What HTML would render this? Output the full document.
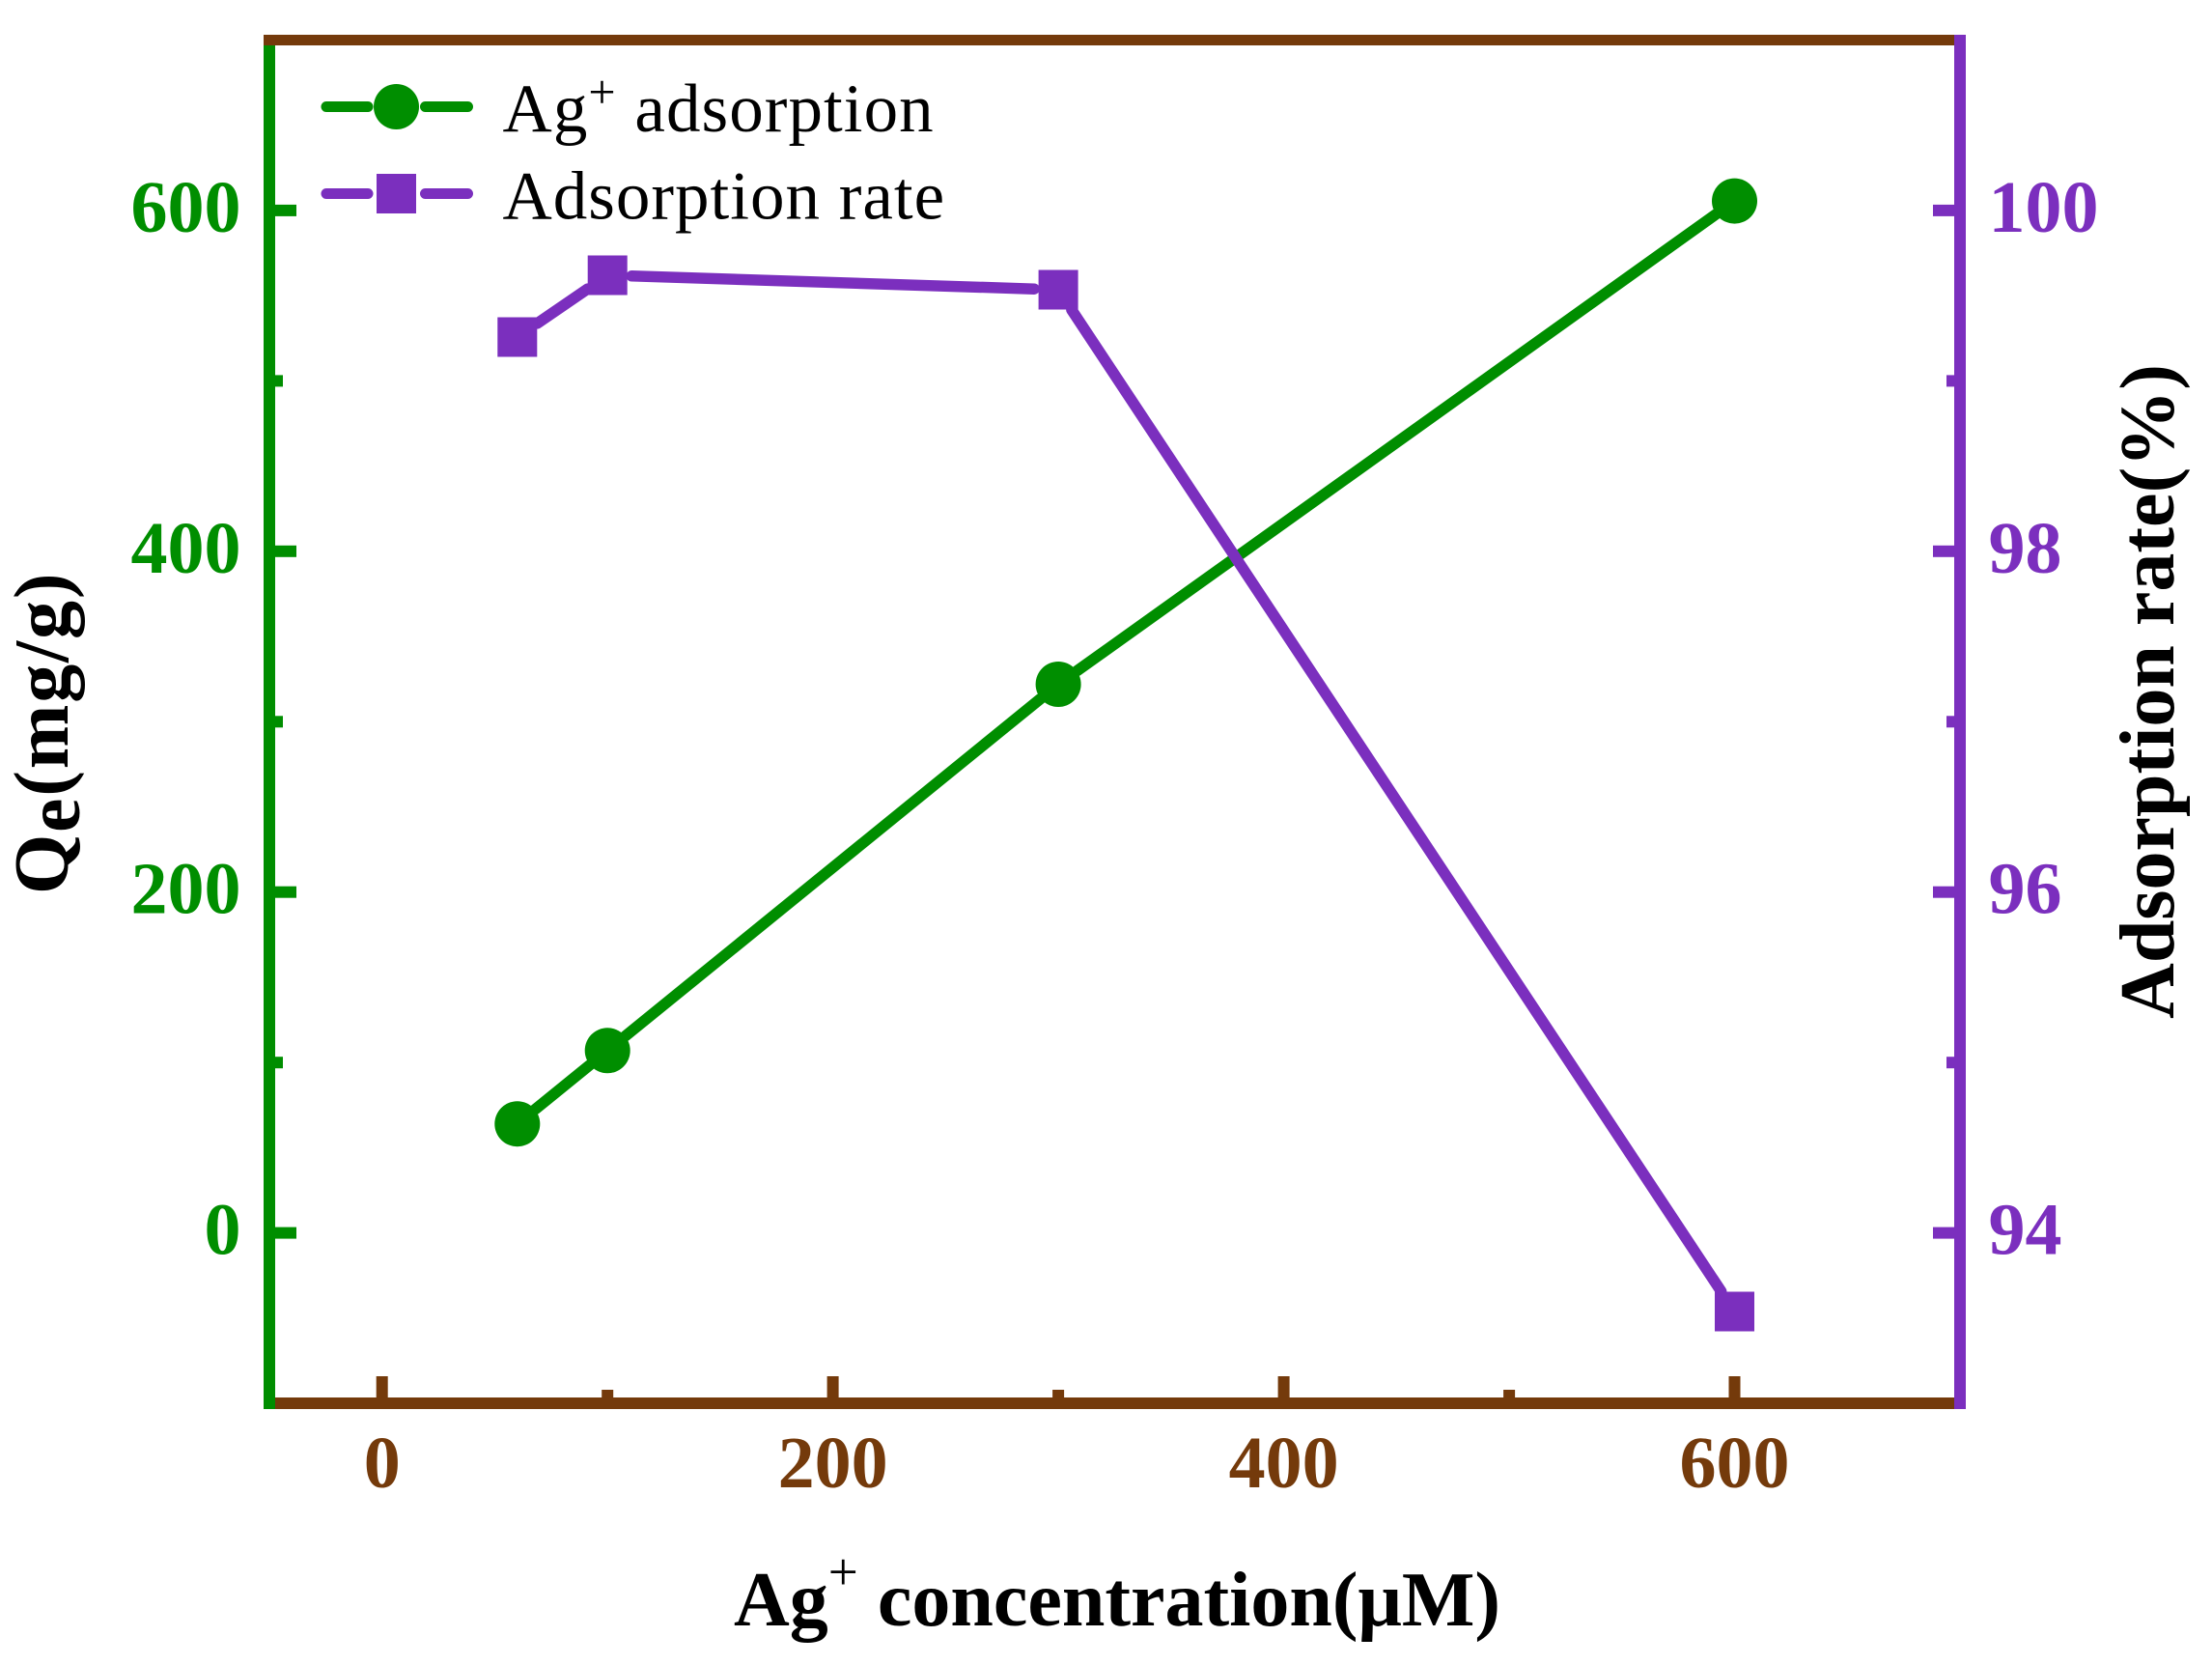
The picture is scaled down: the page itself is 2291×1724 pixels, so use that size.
<!DOCTYPE html>
<html>
<head>
<meta charset="utf-8">
<style>
  html, body { margin: 0; padding: 0; background: #ffffff; }
  body { width: 2291px; height: 1724px; overflow: hidden; }
  svg { display: block; }
</style>
</head>
<body>
<svg width="2291" height="1724" viewBox="0 0 2291 1724" xmlns="http://www.w3.org/2000/svg">
  <rect x="0" y="0" width="2291" height="1724" fill="#ffffff"/>

  <!-- Axis frame -->
  <rect x="273" y="36" width="1751" height="11" fill="#743A0B"/>
  <rect x="285" y="1447" width="1739" height="12" fill="#743A0B"/>
  <rect x="273" y="47" width="12" height="1412" fill="#008E00"/>
  <rect x="2024" y="36" width="12" height="1423" fill="#7B2FBE"/>

  <!-- Left axis ticks (green) -->
  <g fill="#008E00">
    <rect x="285" y="1270.6" width="22" height="12"/>
    <rect x="285" y="917.7" width="22" height="12"/>
    <rect x="285" y="564.8" width="22" height="12"/>
    <rect x="285" y="211.9" width="22" height="12"/>
    <rect x="285" y="1094.2" width="8" height="12"/>
    <rect x="285" y="741.3" width="8" height="12"/>
    <rect x="285" y="388.4" width="8" height="12"/>
  </g>

  <!-- Right axis ticks (purple) -->
  <g fill="#7B2FBE">
    <rect x="2002" y="1270.6" width="22" height="12"/>
    <rect x="2002" y="917.7" width="22" height="12"/>
    <rect x="2002" y="564.8" width="22" height="12"/>
    <rect x="2002" y="211.9" width="22" height="12"/>
    <rect x="2016" y="1094.2" width="8" height="12"/>
    <rect x="2016" y="741.3" width="8" height="12"/>
    <rect x="2016" y="388.4" width="8" height="12"/>
  </g>

  <!-- Bottom axis ticks (brown) -->
  <g fill="#743A0B">
    <rect x="389.7" y="1425" width="12" height="22"/>
    <rect x="856.6" y="1425" width="12" height="22"/>
    <rect x="1323.6" y="1425" width="12" height="22"/>
    <rect x="1790.5" y="1425" width="12" height="22"/>
    <rect x="623.2" y="1439" width="12" height="8"/>
    <rect x="1090.1" y="1439" width="12" height="8"/>
    <rect x="1557.1" y="1439" width="12" height="8"/>
  </g>

  <!-- Left tick labels -->
  <g font-family="'Liberation Serif', 'Times New Roman', serif" font-weight="bold" font-size="76" fill="#008E00" text-anchor="end">
    <text x="249.5" y="1298.6">0</text>
    <text x="249.5" y="945.7">200</text>
    <text x="249.5" y="592.8">400</text>
    <text x="249.5" y="239.9">600</text>
  </g>

  <!-- Right tick labels -->
  <g font-family="'Liberation Serif', 'Times New Roman', serif" font-weight="bold" font-size="76" fill="#7B2FBE" text-anchor="start">
    <text x="2059.5" y="1298.6">94</text>
    <text x="2059.5" y="945.7">96</text>
    <text x="2059.5" y="592.8">98</text>
    <text x="2059.5" y="239.9">100</text>
  </g>

  <!-- Bottom tick labels -->
  <g font-family="'Liberation Serif', 'Times New Roman', serif" font-weight="bold" font-size="76" fill="#743A0B" text-anchor="middle">
    <text x="395.7" y="1540">0</text>
    <text x="862.6" y="1540">200</text>
    <text x="1329.6" y="1540">400</text>
    <text x="1796.5" y="1540">600</text>
  </g>

  <!-- Green series: Ag+ adsorption -->
  <g stroke="#008E00" stroke-width="11.5" stroke-linecap="round" fill="none">
    <line x1="554.4" y1="1148.6" x2="610.6" y2="1102.9"/>
    <line x1="647.8" y1="1072.7" x2="1077.5" y2="723.6"/>
    <line x1="1115.6" y1="694.6" x2="1777.0" y2="222.0"/>
  </g>
  <g fill="#008E00">
    <circle cx="535.8" cy="1163.7" r="23.5"/>
    <circle cx="629.2" cy="1087.8" r="23.5"/>
    <circle cx="1096.1" cy="708.5" r="23.5"/>
    <circle cx="1796.5" cy="208.1" r="23.5"/>
  </g>

  <!-- Purple series: Adsorption rate -->
  <g stroke="#7B2FBE" stroke-width="11.5" stroke-linecap="round" fill="none">
    <line x1="556.4" y1="334.9" x2="608.6" y2="299.1"/>
    <line x1="654.2" y1="285.8" x2="1071.1" y2="299.2"/>
    <line x1="1109.9" y1="320.8" x2="1782.7" y2="1337.2"/>
  </g>
  <g fill="#7B2FBE">
    <rect x="515.3" y="328.5" width="41" height="41"/>
    <rect x="608.7" y="264.5" width="41" height="41"/>
    <rect x="1075.6" y="279.5" width="41" height="41"/>
    <rect x="1776" y="1337.5" width="41" height="41"/>
  </g>

  <!-- Legend -->
  <g stroke-width="11" stroke-linecap="round">
    <line x1="338" y1="110.5" x2="381" y2="110.5" stroke="#008E00"/>
    <line x1="440.5" y1="110.5" x2="484.5" y2="110.5" stroke="#008E00"/>
    <line x1="338" y1="200.5" x2="381" y2="200.5" stroke="#7B2FBE"/>
    <line x1="440.5" y1="200.5" x2="484.5" y2="200.5" stroke="#7B2FBE"/>
  </g>
  <circle cx="410.5" cy="110.5" r="23.5" fill="#008E00"/>
  <rect x="390" y="180" width="41" height="41" fill="#7B2FBE"/>

  <g font-family="'Liberation Serif', 'Times New Roman', serif" font-size="71" fill="#000000">
    <text x="520.5" y="136" letter-spacing="1.05">Ag<tspan font-size="50" dy="-24">+</tspan><tspan dy="24"> adsorption</tspan></text>
    <text x="520.5" y="226.7" letter-spacing="1">Adsorption rate</text>
  </g>

  <!-- X axis title -->
  <text x="760" y="1683" font-family="'Liberation Serif', 'Times New Roman', serif" font-weight="bold" font-size="80" fill="#000000">Ag<tspan font-weight="normal" font-size="55" dy="-37">+</tspan><tspan dy="37"> concentration(μM)</tspan></text>

  <!-- Left Y axis title -->
  <text transform="translate(70,926) rotate(-90)" x="0" y="0" letter-spacing="1.8" font-family="'Liberation Serif', 'Times New Roman', serif" font-weight="bold" font-size="80" fill="#000000">Q<tspan dy="12">e</tspan><tspan dy="-12">(mg/g)</tspan></text>

  <!-- Right Y axis title -->
  <text transform="translate(2251,716) rotate(-90)" x="0" y="0" text-anchor="middle" font-family="'Liberation Serif', 'Times New Roman', serif" font-weight="bold" font-size="80" fill="#000000">Adsorption rate(%)</text>
</svg>
</body>
</html>
